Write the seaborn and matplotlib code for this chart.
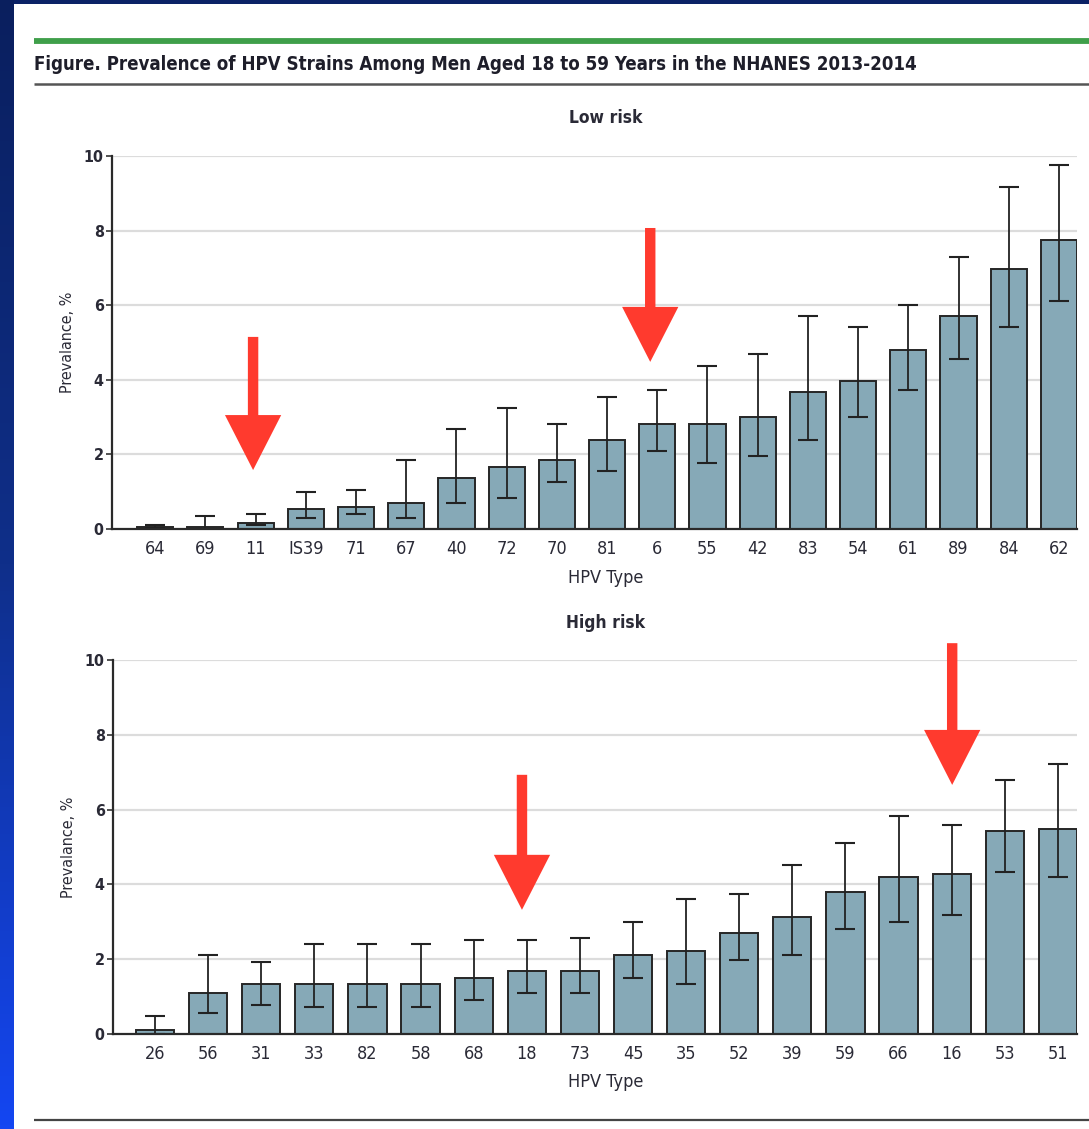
import numpy as np
import pandas as pd
import matplotlib
matplotlib.use("Agg")
import matplotlib.pyplot as plt
from matplotlib import font_manager as fm
from matplotlib.patches import Rectangle
from matplotlib.colors import LinearSegmentedColormap
import seaborn as sns

# ---------------- data ----------------
low_types = ['64', '69', '11', 'IS39', '71', '67', '40', '72', '70', '81',
             '6', '55', '42', '83', '54', '61', '89', '84', '62']
low_prev = [0.05, 0.05, 0.17, 0.53, 0.58, 0.70, 1.36, 1.67, 1.85, 2.39,
            2.82, 2.82, 3.00, 3.66, 3.97, 4.81, 5.71, 6.98, 7.76]
low_lo = [0.02, 0.00, 0.10, 0.29, 0.40, 0.29, 0.70, 0.82, 1.25, 1.55,
          2.09, 1.78, 1.97, 2.39, 3.00, 3.73, 4.57, 5.41, 6.12]
low_hi = [0.10, 0.35, 0.40, 1.00, 1.05, 1.85, 2.69, 3.24, 2.82, 3.54,
          3.73, 4.38, 4.68, 5.71, 5.41, 6.01, 7.28, 9.16, 9.75]

high_types = ['26', '56', '31', '33', '82', '58', '68', '18', '73', '45',
              '35', '52', '39', '59', '66', '16', '53', '51']
high_prev = [0.12, 1.09, 1.33, 1.33, 1.33, 1.33, 1.50, 1.69, 1.69, 2.11,
             2.22, 2.70, 3.13, 3.79, 4.21, 4.27, 5.42, 5.48]
high_lo = [0.00, 0.55, 0.78, 0.72, 0.72, 0.72, 0.90, 1.09, 1.09, 1.49,
           1.33, 1.99, 2.11, 2.82, 3.00, 3.18, 4.33, 4.20]
high_hi = [0.48, 2.11, 1.93, 2.41, 2.41, 2.41, 2.52, 2.52, 2.58, 3.00,
           3.61, 3.73, 4.51, 5.12, 5.84, 5.60, 6.80, 7.23]

y_ticks = [0, 2, 4, 6, 8, 10]

# red highlight arrows: (category position, tail y, tip y)
low_arrows = [(1.95, 5.15, 1.58), (9.86, 8.07, 4.48)]
high_arrows = [(6.91, 6.93, 3.32), (15.01, 10.45, 6.66)]

title = "Figure. Prevalence of HPV Strains Among Men Aged 18 to 59 Years in the NHANES 2013-2014"

# ---------------- style ----------------
sns.set_theme(style="white")
names = {f.name for f in fm.fontManager.ttflist}
cond = next((n for n in ['Liberation Sans Narrow', 'DejaVu Sans Condensed']
             if n in names), None)
if cond is None:
    base_family = ['DejaVu Sans']
    stretch = 'condensed'
else:
    base_family = [cond, 'DejaVu Sans']
    stretch = 'normal'
plt.rcParams['font.family'] = base_family
plt.rcParams['font.stretch'] = stretch

W, H = 1089, 1129
fig = plt.figure(figsize=(W / 100, H / 100), dpi=100)
fig.patch.set_facecolor('#0b2266')

# white slide panel
fig.patches.append(Rectangle((14 / W, 0), 1 - 14 / W, (H - 4) / H,
                             transform=fig.transFigure, facecolor='white',
                             edgecolor='none', zorder=-5))
# blue gradient strip on the left
gax = fig.add_axes([0, 0, 14 / W, 1], zorder=-4)
cmap = LinearSegmentedColormap.from_list('b', ['#0a1f5e', '#0f2f8a', '#1446f2'])
grad = np.linspace(0, 1, 256).reshape(-1, 1)
gax.imshow(grad, aspect='auto', cmap=cmap, origin='upper', extent=[0, 1, 0, 1])
gax.set_axis_off()


def fx(px):
    return px / W


def fy(py):
    return 1 - py / H


# header lines
fig.add_artist(plt.Line2D([fx(34), 1], [fy(41), fy(41)], color='#3f9f4a', lw=4.2,
                          transform=fig.transFigure, solid_capstyle='butt'))
fig.add_artist(plt.Line2D([fx(34), 1], [fy(84), fy(84)], color='#555555', lw=1.8,
                          transform=fig.transFigure, solid_capstyle='butt'))
fig.add_artist(plt.Line2D([fx(34), 1], [fy(1120), fy(1120)], color='#444444', lw=1.6,
                          transform=fig.transFigure, solid_capstyle='butt'))

t = fig.text(fx(34), fy(64), title, ha='left', va='center', fontsize=15,
             fontweight='bold', color='#1e1e2a')
# fit title width to reference (~887 px)
fig.canvas.draw()
bb = t.get_window_extent()
t.set_fontsize(15 * 887 / bb.width)

bar_color = '#86a9b7'
edge_color = '#262626'
text_color = '#2a2a36'


def panel(rect, types, prev, lo, hi, xlim, arrows, ptitle, title_y, xlabel_y):
    ax = fig.add_axes(rect)
    df = pd.DataFrame({'HPV Type': types, 'Prevalence': prev})
    sns.barplot(data=df, x='HPV Type', y='Prevalence', order=types, ax=ax,
                color=bar_color, saturation=1, edgecolor=edge_color,
                linewidth=1.4, width=0.72, errorbar=None, zorder=3)
    pos = np.arange(len(types))
    prev_a = np.array(prev)
    yerr = np.vstack([prev_a - np.array(lo), np.array(hi) - prev_a])
    ax.errorbar(pos, prev_a, yerr=yerr, fmt='none', ecolor='#222222',
                elinewidth=1.3, capsize=7.2, capthick=1.5, zorder=4)
    ax.set_xlim(*xlim)
    ax.set_ylim(0, 10)
    ax.set_yticks(y_ticks)
    ax.set_yticklabels([str(v) for v in y_ticks], fontsize=11.5,
                       fontweight='bold', color=text_color)
    ax.set_xticks(pos)
    ax.set_xticklabels(types, fontsize=13, color=text_color)
    ax.tick_params(axis='y', left=True, length=4, width=1.2, color='#333333', pad=2)
    ax.tick_params(axis='x', bottom=False, length=0, pad=8)
    for g in y_ticks[1:]:
        ax.axhline(g, color='#dcdcdc', lw=1.6, zorder=1)
    for s in ['top', 'right']:
        ax.spines[s].set_visible(False)
    for s in ['left', 'bottom']:
        ax.spines[s].set_color('#2a2a2a')
        ax.spines[s].set_linewidth(1.6)
    ax.spines['bottom'].set_zorder(5)
    ax.set_xlabel('')
    ax.set_ylabel('Prevalance, %', fontsize=11.5, color=text_color, labelpad=6)
    ax.grid(False)
    fig.text(fx(606), fy(title_y), ptitle, ha='center', va='center',
             fontsize=12.5, fontweight='bold', color=text_color)
    fig.text(fx(606), fy(xlabel_y), 'HPV Type', ha='center', va='center',
             fontsize=13, color=text_color)
    for (x, y0, y1) in arrows:
        ax.annotate('', xy=(x, y1), xytext=(x, y0),
                    arrowprops=dict(arrowstyle='simple,head_length=39.6,head_width=40.5,tail_width=7.5',
                                    color='#ff3a2e', mutation_scale=1,
                                    shrinkA=0, shrinkB=0, lw=0),
                    annotation_clip=False, zorder=10)
    return ax


panel([fx(112), fy(529), (1077 - 112) / W, (529 - 156) / H],
      low_types, low_prev, low_lo, low_hi, (-0.86, 18.36), low_arrows,
      'Low risk', 118, 578)
panel([fx(113), fy(1034), (1077 - 113) / W, (1034 - 660) / H],
      high_types, high_prev, high_lo, high_hi, (-0.79, 17.36), high_arrows,
      'High risk', 623, 1082)

fig.savefig('out.png', dpi=100, facecolor=fig.get_facecolor())
